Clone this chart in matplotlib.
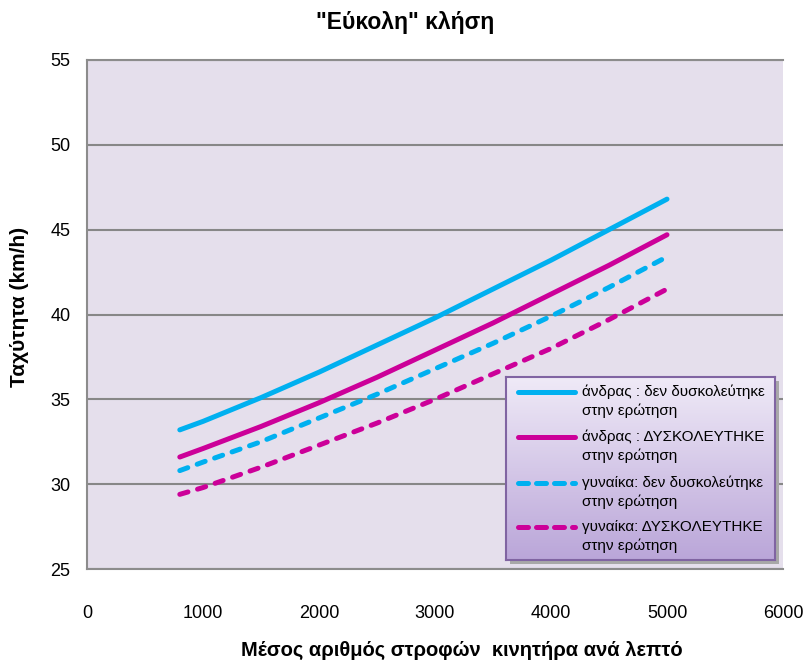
import numpy as np
import matplotlib
matplotlib.use('Agg')
import matplotlib.pyplot as plt

plt.rcParams['font.family'] = ['Liberation Sans', 'DejaVu Sans']

rpm = [800, 1000, 1500, 2000, 2500, 3000, 3500, 4000, 4500, 5000]
man_easy = [33.2, 33.7, 35.1, 36.6, 38.2, 39.8, 41.5, 43.2, 45.0, 46.8]
man_hard = [31.6, 32.1, 33.4, 34.8, 36.3, 37.9, 39.5, 41.2, 42.9, 44.7]
woman_easy = [30.8, 31.3, 32.5, 33.9, 35.3, 36.8, 38.3, 39.9, 41.6, 43.4]
woman_hard = [29.4, 29.8, 31.0, 32.3, 33.6, 35.0, 36.5, 38.0, 39.7, 41.5]

labels = ['άνδρας : δεν δυσκολεύτηκε\nστην ερώτηση',
          'άνδρας : ΔΥΣΚΟΛΕΥΤΗΚΕ\nστην ερώτηση',
          'γυναίκα: δεν δυσκολεύτηκε\nστην ερώτηση',
          'γυναίκα: ΔΥΣΚΟΛΕΥΤΗΚΕ\nστην ερώτηση']

cyan = '#00B0F0'
magenta = '#CC0099'

fig = plt.figure(figsize=(8.11, 6.65), dpi=100)
ax = fig.add_axes([87/811, 1-569/665, (783-87)/811, (569-60)/665])
ax.set_facecolor('#E5DFEC')

lw = 3.6
dash = (1.7, 2.0)
styles = [(cyan, None), (magenta, None), (cyan, dash), (magenta, dash)]
series = [man_easy, man_hard, woman_easy, woman_hard]
for (c, d), ys, lab in zip(styles, series, labels):
    kw = dict(color=c, lw=lw, solid_capstyle='round', dash_capstyle='round', zorder=3, label=lab)
    if d:
        kw['dashes'] = d
    ax.plot(rpm, ys, **kw)

ax.set_xlim(0, 6000)
ax.set_ylim(25, 55)
ax.set_xticks(range(0, 6001, 1000))
ax.set_yticks(range(25, 56, 5))
ax.yaxis.grid(True, color='#878787', lw=1.5)
ax.set_axisbelow(True)
ax.tick_params(length=0, labelsize=13)
ax.tick_params(axis='x', pad=26)
ax.tick_params(axis='y', pad=12)
for s in ['left', 'top', 'bottom']:
    ax.spines[s].set_color('#8C8C8C')
    ax.spines[s].set_linewidth(1.5)
ax.spines['right'].set_visible(False)

fig.text(405/811, 1-22/665, '"Εύκολη" κλήση', fontsize=16.5, fontweight='bold',
         ha='center', va='center')
fig.text(20/811, 1-307/665, 'Ταχύτητα (km/h)', fontsize=15, fontweight='bold',
         ha='center', va='center', rotation=90)
fig.text(462/811, 1-650/665, 'Μέσος αριθμός στροφών  κινητήρα ανά λεπτό', fontsize=14.5,
         fontweight='bold', ha='center', va='center')

# legend box (Excel style: gradient, shadow, handle on first text line)
lx0, ly0, lx1, ly1 = 506, 377, 775, 560
w, h = lx1 - lx0, ly1 - ly0
sh = fig.add_axes([(lx0+4)/811, 1-(ly1+4)/665, w/811, h/665], zorder=1)
sh.set_facecolor('#A8A8A8')
sh.set_xticks([]); sh.set_yticks([])
for s in sh.spines.values():
    s.set_visible(False)
gax = fig.add_axes([lx0/811, 1-ly1/665, w/811, h/665], zorder=2)
grad = np.linspace(0, 1, 256).reshape(-1, 1)
top = np.array([0.94, 0.92, 0.97])
bot = np.array([0.73, 0.65, 0.85])
img = top[None, None, :] * (1 - grad[:, :, None]) + bot[None, None, :] * grad[:, :, None]
gax.imshow(img, aspect='auto', extent=[0, w, h, 0])
gax.set_xlim(0, w)
gax.set_ylim(h, 0)
gax.set_xticks([]); gax.set_yticks([])
for s in gax.spines.values():
    s.set_color('#8064A2')
    s.set_linewidth(1.5)

entry_y = [15, 60, 106, 150]
for (c, d), lab, yy in zip(styles, labels, entry_y):
    kw = dict(color=c, lw=lw, solid_capstyle='round', dash_capstyle='round')
    if d:
        kw['dashes'] = (2.0, 1.6)
    gax.plot([12, 69], [yy, yy], **kw)
    first, second = lab.split('\n')
    gax.text(76, yy, first, fontsize=11, va='center', ha='left')
    gax.text(76, yy + 19, second, fontsize=11, va='center', ha='left')

fig.savefig('out.png', dpi=100)
